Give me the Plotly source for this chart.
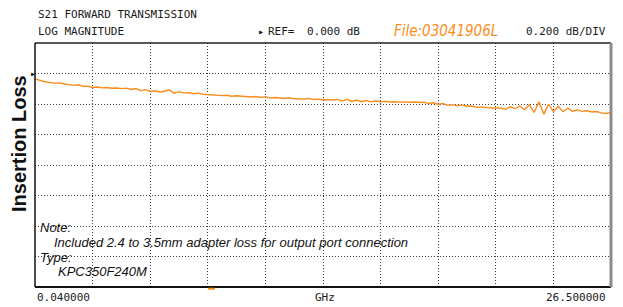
import numpy as np
import plotly.graph_objects as go

# Stimulus: linear sweep 0.04 .. 26.5 GHz, 121 points
f_start_ghz = 0.04
f_stop_ghz = 26.5
n_points = 121
freq_ghz = np.linspace(f_start_ghz, f_stop_ghz, n_points)

# S21 magnitude (dB)
s21_db = [
    -0.035, -0.046, -0.054, -0.058, -0.063, -0.062, -0.068, -0.069, -0.078, -0.074,
    -0.084, -0.083, -0.092, -0.089, -0.094, -0.092, -0.097, -0.095, -0.099, -0.096,
    -0.105, -0.099, -0.112, -0.106, -0.118, -0.113, -0.121, -0.116, -0.108, -0.129,
    -0.119, -0.127, -0.126, -0.133, -0.129, -0.136, -0.139, -0.138, -0.141, -0.145,
    -0.143, -0.149, -0.146, -0.150, -0.150, -0.154, -0.151, -0.157, -0.152, -0.161,
    -0.157, -0.160, -0.164, -0.159, -0.166, -0.165, -0.169, -0.163, -0.170, -0.168,
    -0.172, -0.171, -0.174, -0.170, -0.181, -0.169, -0.183, -0.174, -0.185, -0.177,
    -0.186, -0.179, -0.185, -0.183, -0.187, -0.185, -0.188, -0.186, -0.189, -0.187,
    -0.190, -0.188, -0.197, -0.192, -0.203, -0.196, -0.209, -0.204, -0.212, -0.206,
    -0.215, -0.213, -0.222, -0.219, -0.224, -0.226, -0.226, -0.226, -0.235, -0.218,
    -0.230, -0.213, -0.238, -0.205, -0.255, -0.185, -0.268, -0.200, -0.250, -0.215,
    -0.250, -0.228, -0.247, -0.239, -0.248, -0.244, -0.252, -0.249, -0.258, -0.262,
    -0.255,
]

ref_db = 0.0
db_per_div = 0.2
y_top = 0.2
y_bottom = -1.4
x_divs = 10

title_lines = ["S21 FORWARD TRANSMISSION", "LOG MAGNITUDE"]
ref_label = "REF="
ref_value = "0.000 dB"
file_label = "File:03041906L"
scale_label = "0.200 dB/DIV"
start_label = "0.040000"
unit_label = "GHz"
stop_label = "26.500000"
y_title = "Insertion Loss"
note_lines = ["Note:", "Included 2.4 to 3.5mm adapter loss for output port connection",
              "Type:", "KPC350F240M"]

W, H = 623, 307
ML, MR, MT, MB = 35, 12, 43, 20
PW, PH = W - ML - MR, H - MT - MB


def px(xp):
    return (xp - ML) / PW


def py(yp):
    return (H - MB - yp) / PH


orange = "#FA8C1A"
mono = "DejaVu Sans Mono"
sans = "Liberation Sans, Arial"

fig = go.Figure()
fig.add_trace(go.Scatter(x=freq_ghz, y=s21_db, mode="lines",
                         line=dict(color=orange, width=1.4),
                         hoverinfo="skip", showlegend=False))

grid = dict(showgrid=True, gridcolor="#3a3a3a", gridwidth=1, griddash="1px,2px",
            zeroline=False, showline=False, showticklabels=False, ticks="")
fig.update_xaxes(range=[f_start_ghz, f_stop_ghz], tick0=f_start_ghz,
                 dtick=(f_stop_ghz - f_start_ghz) / x_divs, **grid)
fig.update_yaxes(range=[y_bottom, y_top], tick0=y_top, dtick=db_per_div, **grid)

ann = []


def txt(x, y, s, size=11, font=mono, color="#1a1a1a", xanchor="left", **kw):
    ann.append(dict(x=x, y=y, xref="paper", yref="paper", text=s, showarrow=False,
                    xanchor=xanchor, yanchor="middle",
                    font=dict(family=font, size=size, color=color), **kw))


txt(px(36), py(14.5), title_lines[0])
txt(px(36), py(32), title_lines[1])
txt(px(256), py(32), "▸", size=10, color="#111")
txt(px(266), py(32), ref_label)
txt(px(305), py(32), ref_value)
txt(px(392), py(31), "<i>" + file_label + "</i>", size=15,
    font="DejaVu Sans Condensed, Liberation Sans", color=orange)
txt(px(608), py(32), scale_label, xanchor="right")
txt(px(35), py(297.5), start_label)
txt(px(313), py(297.5), unit_label)
txt(px(608), py(297.5), stop_label, xanchor="right")
txt(px(19), py(144), "<b>" + y_title + "</b>", size=20, font=sans, color="#111",
    xanchor="center", textangle=-90)
txt(px(38), py(227), "<i>" + note_lines[0] + "</i>", size=13, font=sans, color="#111")
txt(px(52), py(242), "<i>" + note_lines[1] + "</i>", size=13, font=sans, color="#111")
txt(px(38), py(257), "<i>" + note_lines[2] + "</i>", size=13, font=sans, color="#111")
txt(px(56), py(271), "<i>" + note_lines[3] + "</i>", size=13, font=sans, color="#111")

# reference-position marker at left edge
ann.append(dict(x=px(33), y=ref_db, xref="paper", yref="y", text="▸", showarrow=False,
                xanchor="center", yanchor="middle",
                font=dict(family=mono, size=10, color="#111")))

shapes = [
    dict(type="line", xref="paper", yref="paper", x0=0, x1=1, y0=1, y1=1,
         line=dict(color="#222", width=1.5)),
    dict(type="line", xref="paper", yref="paper", x0=0, x1=1, y0=0, y1=0,
         line=dict(color="#111", width=2)),
    dict(type="line", xref="paper", yref="paper", x0=0, x1=0, y0=0, y1=1,
         line=dict(color="#111", width=1.5)),
    dict(type="line", xref="paper", yref="paper", x0=1, x1=1, y0=0, y1=1,
         line=dict(color="#8a8a8a", width=3)),
    dict(type="rect", xref="x", yref="paper", x0=7.99, x1=8.31, y0=-0.011, y1=-0.003,
         line=dict(width=0), fillcolor=orange),
]

fig.update_layout(width=W, height=H, margin=dict(l=ML, r=MR, t=MT, b=MB),
                  paper_bgcolor="white", plot_bgcolor="white",
                  annotations=ann, shapes=shapes, showlegend=False)

fig.write_html("out.html", config={"displayModeBar": False},
               post_script="document.body.style.margin='0';document.body.style.overflow='hidden';")
